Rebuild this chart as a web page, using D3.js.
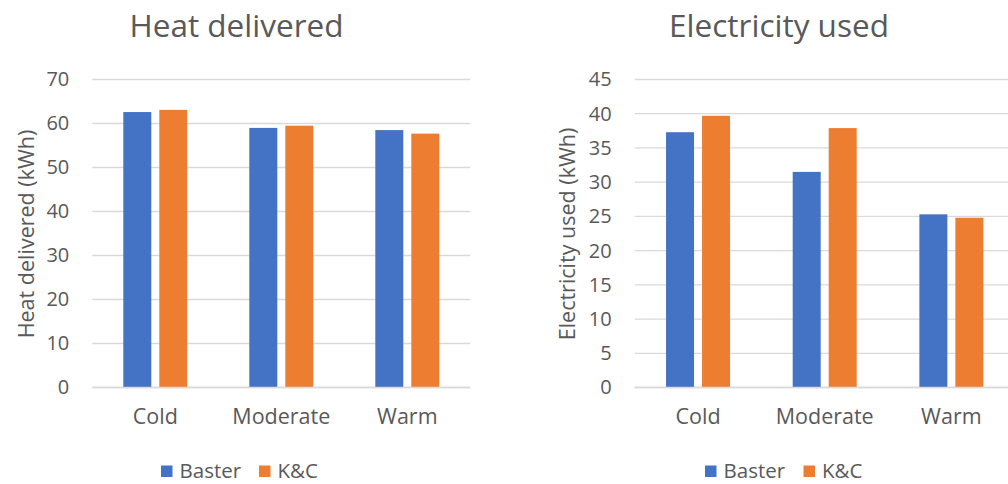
<!DOCTYPE html>
<html>
<head>
<meta charset="utf-8">
<script src="https://cdn.jsdelivr.net/npm/d3@7"></script>
<style>
  html, body { margin: 0; padding: 0; background: #fff; }
  svg { display: block; }
  text { font-family: "Open Sans", "Noto Sans", sans-serif; fill: #595959; }
</style>
</head>
<body>
<svg id="chart" width="1008" height="484"></svg>
<script>
// Climate categories and series
const categories = ["Cold", "Moderate", "Warm"];
const seriesNames = ["Baster", "K&C"];
const seriesColors = ["#4472C4", "#ED7D31"];

// Heat delivered (kWh)
const heatBaster = [62.6, 59.0, 58.5];
const heatKC = [63.1, 59.5, 57.7];
const heatTicks = [0, 10, 20, 30, 40, 50, 60, 70];

// Electricity used (kWh)
const elecBaster = [37.3, 31.5, 25.3];
const elecKC = [39.7, 37.9, 24.8];
const elecTicks = [0, 5, 10, 15, 20, 25, 30, 35, 40, 45];

const svg = d3.select("#chart");
const FONT = '"Open Sans", "Noto Sans", sans-serif';

function drawPanel(opts) {
  const g = svg.append("g");
  const x0 = d3.scaleBand().domain(categories).range([opts.left, opts.right]).padding(0);
  const x1 = d3.scaleBand().domain(seriesNames)
    .range([x0.bandwidth() / 2 - 32, x0.bandwidth() / 2 + 32])
    .paddingInner(2 - 64 / 36).paddingOuter(0);
  const y = d3.scaleLinear().domain([0, opts.max]).range([387.5, 79.5]);

  // gridlines
  g.append("g").selectAll("line").data(opts.ticks).join("line")
    .attr("x1", opts.left).attr("x2", opts.right)
    .attr("y1", d => y(d)).attr("y2", d => y(d))
    .attr("stroke", "#d9d9d9").attr("stroke-width", 1.3);

  // y tick labels
  const yAxis = d3.axisLeft(y).tickValues(opts.ticks).tickSize(0).tickPadding(0);
  const ya = g.append("g").attr("transform", `translate(${opts.left - 23},0)`).call(yAxis);
  ya.select(".domain").remove();
  ya.selectAll("text").attr("font-size", 20).attr("fill", "#595959").style("font-family", FONT);

  // bars
  const rows = categories.map((c, i) => ({ cat: c, vals: [opts.a[i], opts.b[i]] }));
  g.append("g").selectAll("g").data(rows).join("g")
    .attr("transform", d => `translate(${x0(d.cat)},0)`)
    .selectAll("rect").data(d => d.vals.map((v, j) => ({ s: seriesNames[j], v, j })))
    .join("rect")
    .attr("x", d => x1(d.s)).attr("width", x1.bandwidth())
    .attr("y", d => y(d.v)).attr("height", d => y(0) - y(d.v))
    .attr("fill", d => seriesColors[d.j]);

  // baseline
  g.append("line").attr("x1", opts.left).attr("x2", opts.right)
    .attr("y1", y(0)).attr("y2", y(0)).attr("stroke", "#d9d9d9").attr("stroke-width", 1.5);

  // category labels
  const xAxis = d3.axisBottom(x0).tickSize(0).tickPadding(0);
  const xa = g.append("g").attr("transform", `translate(0,${y(0) + 21})`).call(xAxis);
  xa.select(".domain").remove();
  xa.selectAll("text").attr("font-size", 21.5).attr("fill", "#595959").style("font-family", FONT);

  // title
  g.append("text").attr("x", opts.titleX).attr("y", 37)
    .attr("text-anchor", "middle").attr("font-size", 31.5).text(opts.title);

  // y axis title
  g.append("text")
    .attr("transform", `translate(${opts.axisTitleX},234) rotate(-90)`)
    .attr("text-anchor", "middle").attr("dominant-baseline", "central")
    .attr("font-size", 21.5).text(opts.axisTitle);

  // legend
  const lg = g.append("g").attr("transform", `translate(${opts.legendX},0)`);
  const items = [{ n: seriesNames[0], c: seriesColors[0], dx: 0 }, { n: seriesNames[1], c: seriesColors[1], dx: opts.legendGap }];
  items.forEach(it => {
    lg.append("rect").attr("x", it.dx).attr("y", 465.5).attr("width", 11.5).attr("height", 11.5).attr("fill", it.c);
    lg.append("text").attr("x", it.dx + 18.5).attr("y", 477.5).attr("font-size", 20.5).text(it.n);
  });
}

drawPanel({
  left: 92.3, right: 470.3, max: 70, ticks: heatTicks,
  a: heatBaster, b: heatKC,
  title: "Heat delivered", titleX: 236.5,
  axisTitle: "Heat delivered (kWh)", axisTitleX: 25,
  legendX: 161, legendGap: 98
});

drawPanel({
  left: 634.7, right: 1014.7, max: 45, ticks: elecTicks,
  a: elecBaster, b: elecKC,
  title: "Electricity used", titleX: 779,
  axisTitle: "Electricity used (kWh)", axisTitleX: 566.5,
  legendX: 705, legendGap: 98.5
});
</script>
</body>
</html>
